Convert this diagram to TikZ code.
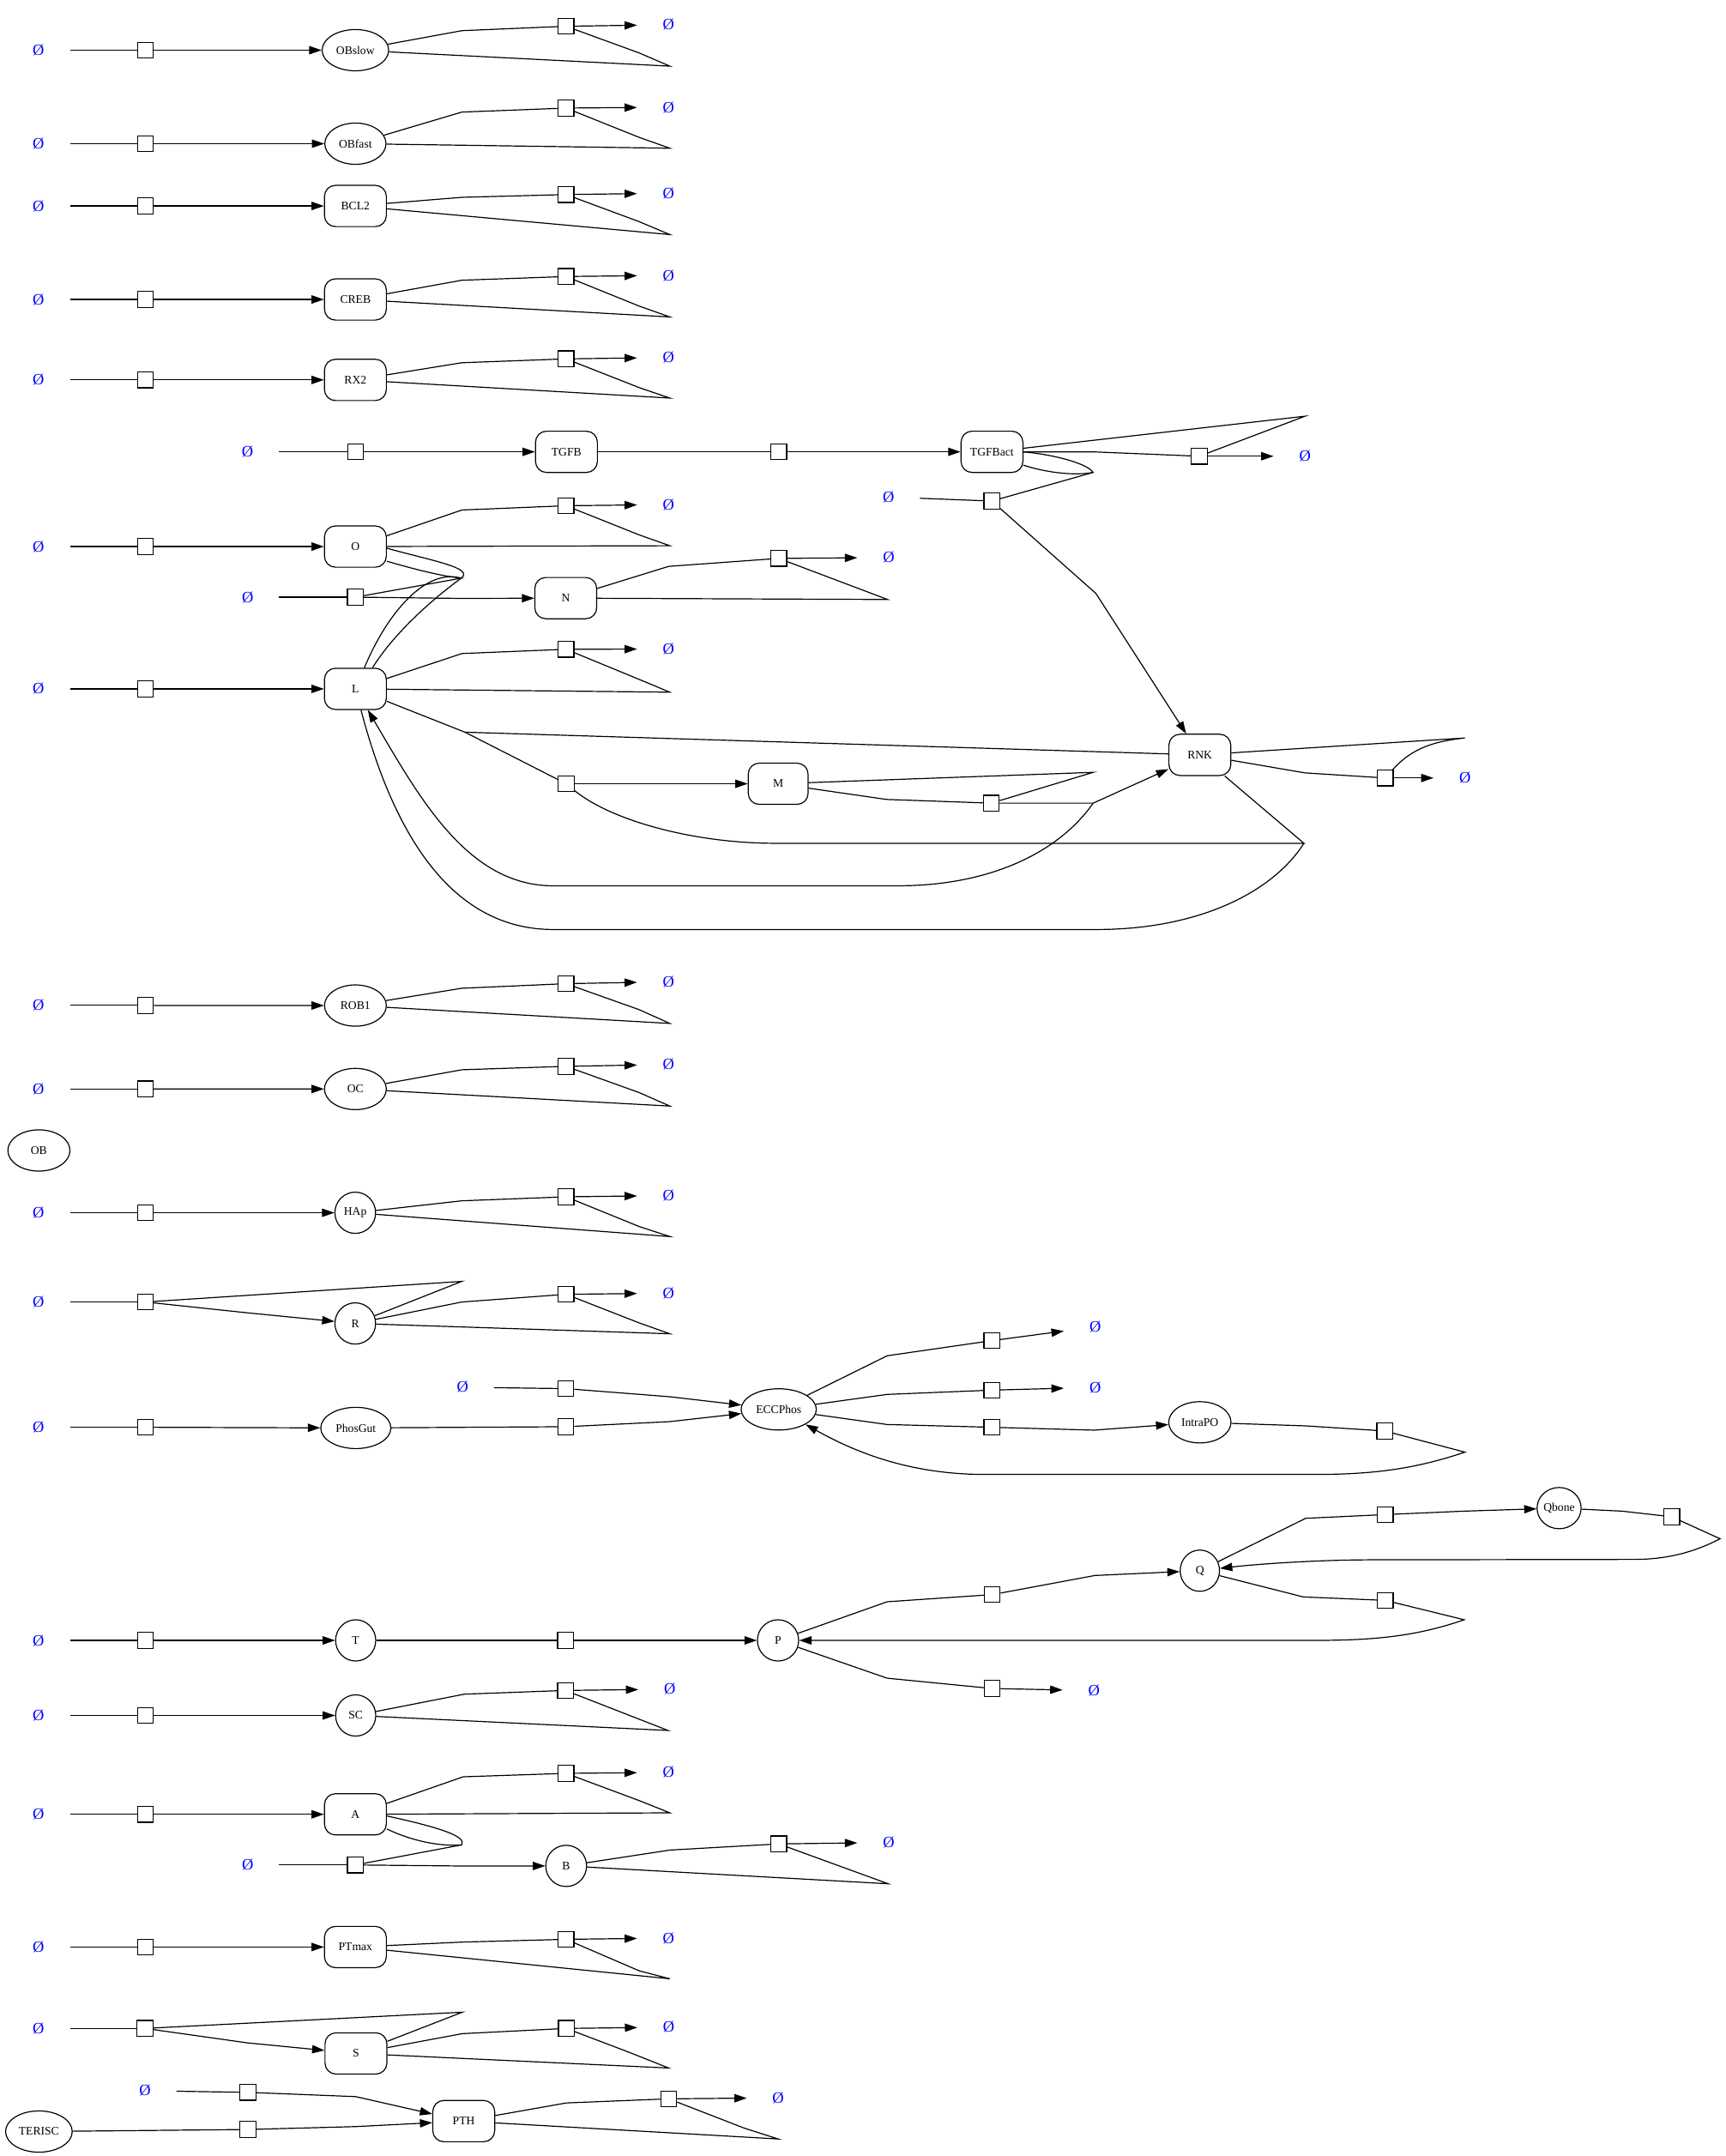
\documentclass[tikz,border=0pt]{standalone}
\usepackage{fontspec}
\setmainfont{Liberation Serif}
\usetikzlibrary{arrows.meta,shapes.geometric}

\begin{document}
\begin{tikzpicture}[x=1pt,y=-1pt,line width=0.75pt,
  sp/.style={draw,ellipse,minimum height=30pt,inner sep=0pt,font=\fontsize{8.5}{10}\selectfont},
  rs/.style={draw,rectangle,rounded corners=8pt,minimum width=45pt,minimum height=30pt,inner sep=0pt,font=\fontsize{8.5}{10}\selectfont},
  rx/.style={draw,rectangle,fill=white,minimum size=11.5pt,inner sep=0pt},
  nil/.style={minimum width=45pt,minimum height=30pt,inner sep=0pt,text=blue,font=\fontsize{11.5}{13}\selectfont},
  pr/.style={-{Triangle[length=9pt,width=6pt]}}]
	\useasboundingbox (0,0) rectangle (1255,1568);

	% OBslow
	\node[nil] (zOBslow) at (28,36.5) {Ø};
	\node[rx] (rOBslow) at (105.7,36.5) {};
	\node[sp,minimum width=48.4pt] (OBslow) at (258.5,36.5) {OBslow};
	\node[rx] (dOBslow) at (411.7,19.1) {};
	\node[nil] (nOBslow) at (486.2,18) {Ø};
	\draw (zOBslow) -- (rOBslow);
	\draw[pr] (rOBslow) -- (OBslow);
	\draw (OBslow) -- (336,22.3) -- (dOBslow);
	\draw[pr] (dOBslow) -- (nOBslow);
	\draw (dOBslow) -- (464.9,38.5) -- (487.2,48.1) -- (OBslow);

	% OBfast
	\node[nil] (zOBfast) at (28,104.5) {Ø};
	\node[rx] (rOBfast) at (105.7,104.5) {};
	\node[sp,minimum width=44.5pt] (OBfast) at (258.5,104.5) {OBfast};
	\node[rx] (dOBfast) at (411.7,78.6) {};
	\node[nil] (nOBfast) at (486.2,78) {Ø};
	\draw (zOBfast) -- (rOBfast);
	\draw[pr] (rOBfast) -- (OBfast);
	\draw (OBfast) -- (336,81.5) -- (dOBfast);
	\draw[pr] (dOBfast) -- (nOBfast);
	\draw (dOBfast) -- (464.9,99.9) -- (487.2,107.8) -- (OBfast);

	% BCL2
	\node[nil] (zBCL2) at (28,149.8) {Ø};
	\node[rx] (rBCL2) at (105.7,149.8) {};
	\node[rs] (BCL2) at (258.5,149.8) {BCL2};
	\node[rx] (dBCL2) at (411.7,141.5) {};
	\node[nil] (nBCL2) at (486.2,140.5) {Ø};
	\draw (zBCL2) -- (rBCL2);
	\draw[pr] (rBCL2) -- (BCL2);
	\draw (BCL2) -- (336,143.5) -- (dBCL2);
	\draw[pr] (dBCL2) -- (nBCL2);
	\draw (dBCL2) -- (464.9,161.2) -- (487.2,170.6) -- (BCL2);

	% CREB
	\node[nil] (zCREB) at (28,217.8) {Ø};
	\node[rx] (rCREB) at (105.7,217.8) {};
	\node[rs] (CREB) at (258.5,217.8) {CREB};
	\node[rx] (dCREB) at (411.7,201.1) {};
	\node[nil] (nCREB) at (486.2,200.3) {Ø};
	\draw (zCREB) -- (rCREB);
	\draw[pr] (rCREB) -- (CREB);
	\draw (CREB) -- (336,203.8) -- (dCREB);
	\draw[pr] (dCREB) -- (nCREB);
	\draw (dCREB) -- (464.9,222.6) -- (487.2,230.5) -- (CREB);

	% RX2
	\node[nil] (zRX2) at (28,276.3) {Ø};
	\node[rx] (rRX2) at (105.7,276.3) {};
	\node[rs] (RX2) at (258.5,276.3) {RX2};
	\node[rx] (dRX2) at (411.7,261) {};
	\node[nil] (nRX2) at (486.2,260) {Ø};
	\draw (zRX2) -- (rRX2);
	\draw[pr] (rRX2) -- (RX2);
	\draw (RX2) -- (336,263.8) -- (dRX2);
	\draw[pr] (dRX2) -- (nRX2);
	\draw (dRX2) -- (464.9,281.9) -- (487.2,289.5) -- (RX2);

	% TGFB, TGFBact
	\node[nil] (zTGFB) at (180,328.6) {Ø};
	\node[rx] (rTGFB) at (258.7,328.6) {};
	\node[rs] (TGFB) at (412,328.6) {TGFB};
	\node[rx] (rTGFBact) at (566.4,328.6) {};
	\node[rs] (TGFBact) at (721.5,328.6) {TGFBact};
	\node[rx] (dTGFBact) at (872.3,331.8) {};
	\node[nil] (nTGFBact) at (949.2,331.8) {Ø};
	\draw (zTGFB) -- (rTGFB);
	\draw[pr] (rTGFB) -- (TGFB);
	\draw (TGFB) -- (rTGFBact);
	\draw[pr] (rTGFBact) -- (TGFBact);
	\draw (TGFBact) -- (797.1,328.7) -- (dTGFBact);
	\draw[pr] (dTGFBact) -- (nTGFBact);
	\draw (dTGFBact) -- (949.2,302.7) -- (TGFBact);

	% RNK
	\node[nil] (zRNK) at (646.2,361.5) {Ø};
	\node[rx] (rRNK) at (721.4,364.4) {};
	\node[rs] (RNK) at (872.7,549) {RNK};
	\node[rx] (dRNK) at (1007.5,565.8) {};
	\node[nil] (nRNK) at (1065.5,565.8) {Ø};
	\coordinate (jTG) at (795,343.6);
	\draw (zRNK) -- (rRNK);
	\draw (TGFBact.east) .. controls (770,331) and (792,338) .. (jTG) -- (rRNK);
	\draw (TGFBact.-23) .. controls (762,344) and (782,346) .. (jTG);
	\draw[pr] (rRNK) -- (797.1,431.6) -- (RNK);
	\draw (RNK) -- (949.2,562.1) -- (dRNK);
	\draw[pr] (dRNK) -- (nRNK);
	\draw (dRNK) .. controls (1028,543) and (1045,539) .. (1065.5,536.7) -- (RNK);

	% O
	\node[nil] (zO) at (28,397.5) {Ø};
	\node[rx] (rO) at (105.7,397.5) {};
	\node[rs] (O) at (258.5,397.5) {O};
	\node[rx] (dO) at (411.7,367.8) {};
	\node[nil] (nO) at (486.2,367) {Ø};
	\draw (zO) -- (rO);
	\draw[pr] (rO) -- (O);
	\draw (O) -- (336,370.9) -- (dO);
	\draw[pr] (dO) -- (nO);
	\draw (dO) -- (464.9,389) -- (487.2,396.9) -- (O);

	% L
	\node[nil] (zL) at (28,501) {Ø};
	\node[rx] (rL) at (105.7,501) {};
	\node[rs] (L) at (258.5,501) {L};
	\node[rx] (dL) at (411.7,472.2) {};
	\node[nil] (nL) at (486.2,472) {Ø};
	\draw (zL) -- (rL);
	\draw[pr] (rL) -- (L);
	\draw (L) -- (336,475.3) -- (dL);
	\draw[pr] (dL) -- (nL);
	\draw (dL) -- (464.9,494.1) -- (487.2,503.4) -- (L);

	% N
	\node[nil] (zN) at (180.2,434.3) {Ø};
	\node[rx] (rN) at (258.5,434.3) {};
	\node[rs] (N) at (411.5,435) {N};
	\node[rx] (dN) at (566.4,406.1) {};
	\node[nil] (nN) at (646.4,405.5) {Ø};
	\coordinate (jON) at (335.5,420.5);
	\draw (zN) -- (rN);
	\draw[pr] (rN) -- (335.9,435.2) -- (N);
	\draw (O.-25) .. controls (305,415) and (322,419) .. (jON) -- (rN);
	\draw (O.-3) .. controls (315,408) and (345,413) .. (jON) .. controls (325,428) and (290,455) .. (L.51);
	\draw (L.67) .. controls (282,445) and (310,413) .. (jON);
	\draw (N) -- (486.4,411.9) -- (dN);
	\draw[pr] (dN) -- (nN);
	\draw (dN) -- (645.6,436) -- (N);

	% M
	\node[rx] (rM) at (411.8,570) {};
	\node[rs,minimum width=43.5pt] (M) at (566,570) {M};
	\node[rx] (dM) at (721,584.1) {};
	\coordinate (jL) at (338.2,532.5);
	\coordinate (jMd) at (795.1,584.1);
	\coordinate (jR) at (948.4,613.3);
	\draw[pr] (rM) -- (M);
	\draw (L) -- (jL) -- (rM);
	\draw (RNK) -- (jL);
	\draw (rM) .. controls (445,597) and (505,613.3) .. (563.9,613.3) -- (jR) -- (RNK);
	\draw (jR) .. controls (925,650) and (870,676) .. (797.9,676) -- (402.3,676) .. controls (320,676) and (282,590) .. (L);
	\draw (M) -- (644.7,581.4) -- (dM);
	\draw (dM) -- (795.1,561.7) -- (M);
	\draw[pr] (dM) -- (jMd) -- (RNK);
	\draw[pr] (jMd) .. controls (770,620) and (720,644.2) .. (653.1,644.2) -- (402.3,644.2) .. controls (340,644.2) and (305,580) .. (L);

	% ROB1
	\node[nil] (zROB1) at (28,731.2) {Ø};
	\node[rx] (rROB1) at (105.7,731.2) {};
	\node[sp,minimum width=45pt] (ROB1) at (258.5,731.3) {ROB1};
	\node[rx] (dROB1) at (411.7,715.4) {};
	\node[nil] (nROB1) at (486.2,714) {Ø};
	\draw (zROB1) -- (rROB1);
	\draw[pr] (rROB1) -- (ROB1);
	\draw (ROB1) -- (336,718.7) -- (dROB1);
	\draw[pr] (dROB1) -- (nROB1);
	\draw (dROB1) -- (464.9,734.3) -- (487.2,744.3) -- (ROB1);

	% OC
	\node[nil] (zOC) at (28,791.9) {Ø};
	\node[rx] (rOC) at (105.7,791.9) {};
	\node[sp,minimum width=45pt] (OC) at (258.5,792) {OC};
	\node[rx] (dOC) at (411.7,775.5) {};
	\node[nil] (nOC) at (486.2,774.2) {Ø};
	\draw (zOC) -- (rOC);
	\draw[pr] (rOC) -- (OC);
	\draw (OC) -- (336,778) -- (dOC);
	\draw[pr] (dOC) -- (nOC);
	\draw (dOC) -- (464.9,794.6) -- (487.2,804.4) -- (OC);

	\node[sp,minimum width=45.2pt] (OB) at (28.3,836.7) {OB};

	% HAp
	\node[nil] (zHAp) at (28,882) {Ø};
	\node[rx] (rHAp) at (105.7,882) {};
	\node[sp,minimum width=29.6pt] (HAp) at (258.4,882) {HAp};
	\node[rx] (dHAp) at (411.7,870.4) {};
	\node[nil] (nHAp) at (486.2,869.5) {Ø};
	\draw (zHAp) -- (rHAp);
	\draw[pr] (rHAp) -- (HAp);
	\draw (HAp) -- (336,873.3) -- (dHAp);
	\draw[pr] (dHAp) -- (nHAp);
	\draw (dHAp) -- (464.9,892) -- (487.2,899.3) -- (HAp);

	% R
	\node[nil] (zR) at (28,946.9) {Ø};
	\node[rx] (rR) at (105.7,946.9) {};
	\node[sp,minimum width=29.6pt] (R) at (258.4,962.5) {R};
	\node[rx] (dR) at (411.7,941.3) {};
	\node[nil] (nR) at (486.2,940.5) {Ø};
	\draw (zR) -- (rR);
	\draw[pr] (rR) -- (180.2,954.8) -- (R);
	\draw (rR) -- (335.9,931.9) -- (R);
	\draw (R) -- (335.9,946.9) -- (dR);
	\draw[pr] (dR) -- (nR);
	\draw (dR) -- (464.9,962.1) -- (487.2,970) -- (R);

	% ECCPhos
	\node[nil] (zECC) at (336.5,1008.9) {Ø};
	\node[rx] (rECCa) at (411.6,1009.9) {};
	\node[nil] (zPhosGut) at (28,1038) {Ø};
	\node[rx] (rPhosGut) at (105.7,1038) {};
	\node[sp,minimum width=51pt] (PhosGut) at (258.8,1038.5) {PhosGut};
	\node[rx] (rECCb) at (411.6,1037.6) {};
	\node[sp,minimum width=54.7pt] (ECCPhos) at (566.4,1025) {ECCPhos};
	\node[rx] (dECCa) at (721.4,975) {};
	\node[nil] (nECCa) at (796.6,965) {Ø};
	\node[rx] (dECCb) at (721.4,1011) {};
	\node[nil] (nECCb) at (796.6,1009) {Ø};
	\node[rx] (rIntraPO) at (721.4,1038) {};
	\node[sp,minimum width=45.3pt] (IntraPO) at (872.7,1034.4) {IntraPO};
	\node[rx] (dIntraPO) at (1007.2,1040.7) {};
	\draw (zECC) -- (rECCa);
	\draw[pr] (rECCa) -- (487.1,1015.8) -- (ECCPhos);
	\draw (zPhosGut) -- (rPhosGut);
	\draw[pr] (rPhosGut) -- (PhosGut);
	\draw (PhosGut) -- (rECCb);
	\draw[pr] (rECCb) -- (487.1,1033.9) -- (ECCPhos);
	\draw (ECCPhos) -- (645.3,986) -- (dECCa);
	\draw[pr] (dECCa) -- (nECCa);
	\draw (ECCPhos) -- (645.3,1014.1) -- (dECCb);
	\draw[pr] (dECCb) -- (nECCb);
	\draw (ECCPhos) -- (645.3,1036) -- (rIntraPO);
	\draw[pr] (rIntraPO) -- (795.7,1040.1) -- (IntraPO);
	\draw (IntraPO) -- (949.9,1037) -- (dIntraPO);
	\draw[pr] (dIntraPO) -- (1065.5,1056.1) .. controls (1030,1068) and (1000,1072.3) .. (957.1,1072.3) -- (716.1,1072.3) .. controls (660,1072.3) and (620,1055) .. (ECCPhos);

	% Qbone, Q, P, T
	\node[sp,minimum width=31pt] (Qbone) at (1134,1096.8) {Qbone};
	\node[rx] (rQbone) at (1007.6,1101.5) {};
	\node[rx] (dQbone) at (1215.9,1103.1) {};
	\node[sp,minimum width=28.6pt] (Q) at (872.7,1142.3) {Q};
	\node[rx] (rQ) at (721.7,1159.7) {};
	\node[rx] (dQ) at (1007.6,1163.9) {};
	\node[nil] (zT) at (28,1193) {Ø};
	\node[rx] (rT) at (105.7,1193) {};
	\node[sp,minimum width=29.2pt] (T) at (258.7,1193) {T};
	\node[rx] (rP) at (411.3,1193) {};
	\node[sp,minimum width=30pt] (P) at (565.9,1193) {P};
	\node[rx] (dP) at (721.7,1228) {};
	\node[nil] (nP) at (795.7,1229.5) {Ø};
	\draw (zT) -- (rT);
	\draw[pr] (rT) -- (T);
	\draw (T) -- (rP);
	\draw[pr] (rP) -- (P);
	\draw (P) -- (645.3,1164.9) -- (rQ);
	\draw[pr] (rQ) -- (796.3,1145.8) -- (Q);
	\draw (P) -- (645.3,1220.5) -- (dP);
	\draw[pr] (dP) -- (nP);
	\draw (Q) -- (949.7,1104.2) -- (rQbone);
	\draw[pr] (rQbone) -- (1065,1099) -- (Qbone);
	\draw (Qbone) -- (1179.8,1099) -- (dQbone);
	\draw[pr] (dQbone) -- (1251.1,1119.1) .. controls (1230,1130) and (1210,1134.1) .. (1188.5,1134.1) -- (994.5,1134.4) .. controls (950,1134.7) and (910,1138) .. (Q);
	\draw (Q) -- (948,1161.4) -- (dQ);
	\draw[pr] (dQ) -- (1065,1178) .. controls (1030,1190) and (1000,1193) .. (955.7,1193) -- (P);

	% SC
	\node[nil] (zSC) at (28,1247.6) {Ø};
	\node[rx] (rSC) at (105.7,1247.6) {};
	\node[sp,minimum width=29.2pt] (SC) at (258.7,1247.6) {SC};
	\node[rx] (dSC) at (411.3,1229.4) {};
	\node[nil] (nSC) at (487.1,1228.5) {Ø};
	\draw (zSC) -- (rSC);
	\draw[pr] (rSC) -- (SC);
	\draw (SC) -- (337.8,1232.1) -- (dSC);
	\draw[pr] (dSC) -- (nSC);
	\draw (dSC) -- (485.9,1258.5) -- (SC);

	% A, B
	\node[nil] (zA) at (28,1319.5) {Ø};
	\node[rx] (rA) at (105.7,1319.5) {};
	\node[rs] (A) at (258.5,1319.5) {A};
	\node[rx] (dA) at (411.7,1289.7) {};
	\node[nil] (nA) at (486.2,1289) {Ø};
	\node[nil] (zB) at (180.2,1356.3) {Ø};
	\node[rx] (rB) at (258.5,1356.3) {};
	\node[sp,minimum width=29.7pt] (B) at (411.8,1357) {B};
	\node[rx] (dB) at (566.4,1341) {};
	\node[nil] (nB) at (646.4,1340) {Ø};
	\coordinate (jAB) at (335.9,1341.7);
	\draw (zA) -- (rA);
	\draw[pr] (rA) -- (A);
	\draw (A) -- (336.9,1292.2) -- (dA);
	\draw[pr] (dA) -- (nA);
	\draw (dA) -- (464.9,1309.5) -- (487.2,1318.4) -- (A);
	\draw (A.-3) .. controls (315,1328) and (340,1335) .. (jAB) -- (rB);
	\draw (A.-25) .. controls (300,1339) and (320,1343) .. (jAB);
	\draw (zB) -- (rB);
	\draw[pr] (rB) -- (337.5,1357.1) -- (B);
	\draw (B) -- (487.2,1345.5) -- (dB);
	\draw[pr] (dB) -- (nB);
	\draw (dB) -- (646,1370) -- (B);

	% PTmax
	\node[nil] (zPTmax) at (28,1416) {Ø};
	\node[rx] (rPTmax) at (105.7,1416) {};
	\node[rs] (PTmax) at (258.5,1416) {PTmax};
	\node[rx] (dPTmax) at (411.7,1410.4) {};
	\node[nil] (nPTmax) at (486.2,1409.5) {Ø};
	\draw (zPTmax) -- (rPTmax);
	\draw[pr] (rPTmax) -- (PTmax);
	\draw (PTmax) -- (336.5,1412.4) -- (dPTmax);
	\draw[pr] (dPTmax) -- (nPTmax);
	\draw (dPTmax) -- (464.9,1433.3) -- (487.2,1439.1) -- (PTmax);

	% S
	\node[nil] (zS) at (28,1475.2) {Ø};
	\node[rx] (rS) at (105.5,1475.2) {};
	\node[rs] (S) at (258.9,1493.4) {S};
	\node[rx] (dS) at (411.9,1475.2) {};
	\node[nil] (nS) at (486.4,1474.3) {Ø};
	\draw (zS) -- (rS);
	\draw[pr] (rS) -- (179.9,1485.7) -- (S);
	\draw (rS) -- (336.3,1463.4) -- (S);
	\draw (S) -- (336.3,1479) -- (dS);
	\draw[pr] (dS) -- (nS);
	\draw (dS) -- (457.7,1492.6) -- (486.4,1504) -- (S);

	% PTH
	\node[nil] (zPTH) at (105.5,1520.5) {Ø};
	\node[rx] (rPTHa) at (180.3,1521.7) {};
	\node[sp,minimum width=48.5pt] (TERISC) at (28.3,1550.2) {TERISC};
	\node[rx] (rPTHb) at (180.3,1548.7) {};
	\node[rs] (PTH) at (337.3,1542.6) {PTH};
	\node[rx] (dPTH) at (486.4,1526.4) {};
	\node[nil] (nPTH) at (566,1525.7) {Ø};
	\draw (zPTH) -- (rPTHa);
	\draw[pr] (rPTHa) -- (258.7,1524.8) -- (PTH);
	\draw (TERISC) -- (rPTHb);
	\draw[pr] (rPTHb) -- (258.7,1546.6) -- (PTH);
	\draw (PTH) -- (411.9,1529.4) -- (dPTH);
	\draw[pr] (dPTH) -- (nPTH);
	\draw (dPTH) -- (541.3,1547.7) -- (566,1555.6) -- (PTH);
\end{tikzpicture}
\end{document}
